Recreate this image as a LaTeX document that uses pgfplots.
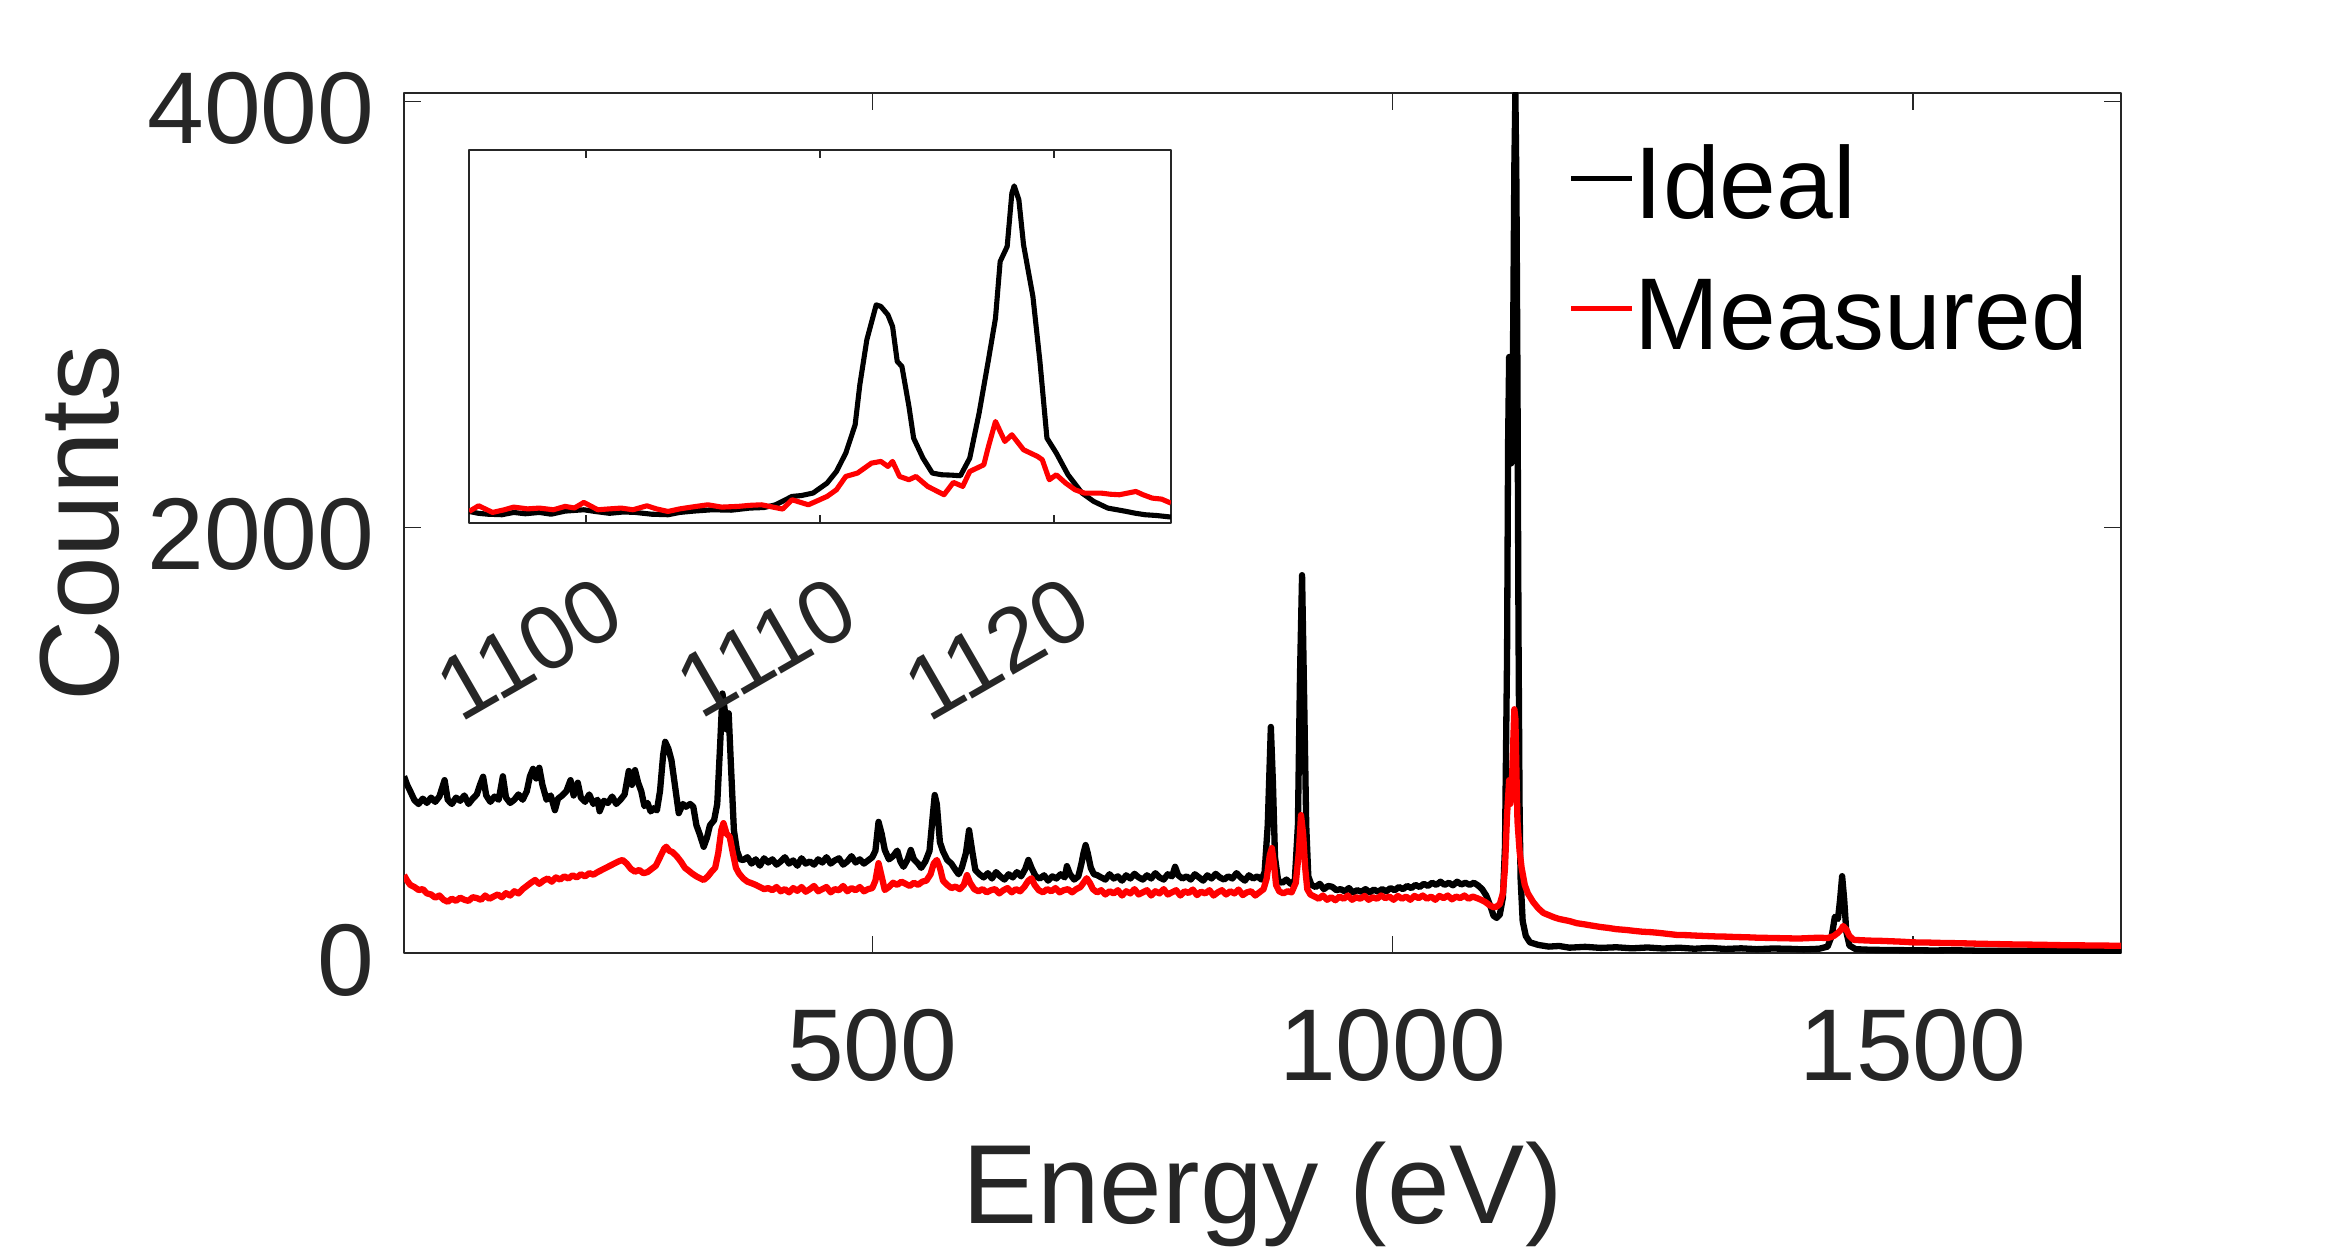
\documentclass[border=0pt]{standalone}
\usepackage{fontspec}
\setmainfont{Liberation Sans}
\usepackage{pgfplots}
\pgfplotsset{compat=1.18}
\definecolor{axgray}{HTML}{262626}
\definecolor{mred}{HTML}{FF0000}
\begin{document}
\begin{tikzpicture}
\path[use as bounding box] (0,0) rectangle (781.33pt,416.67pt);
\begin{axis}[
  at={(134.67pt,99pt)}, anchor=south west,
  width=572.33pt, height=286.67pt, scale only axis,
  xmin=50, xmax=1700, ymin=0, ymax=4040,
  xtick={500,1000,1500}, xticklabels={500,1000,1500},
  ytick={0,2000,4000}, yticklabels={0,2000,4000},
  /pgf/number format/assume math mode=true,
  tick align=inside, major tick length=5.8pt,
  axis line style={axgray, line width=0.5pt},
  every tick/.style={axgray, line width=0.5pt},
  tick label style={font=\fontsize{34}{40}\selectfont, text=axgray},
  xticklabel style={anchor=north, inner sep=0pt, yshift=-18.7pt},
  yticklabel style={anchor=east, inner sep=0pt, xshift=-9.7pt, yshift=-2.3pt},
  xlabel={Energy (eV)}, ylabel={Counts},
  label style={font=\fontsize{37.5}{45}\selectfont, text=axgray},
  xlabel style={at={(axis description cs:0.5,0)}, anchor=base, yshift=-90.1pt},
  ylabel style={at={([xshift=-95.2pt]axis description cs:0,0.5)}, anchor=base},
  legend style={draw=none, fill=none, at={(axis description cs:0.6783,0.9373)}, anchor=north west,
    inner sep=0pt, outer sep=0pt, font=\fontsize{34}{40}\selectfont, text=black,
    cells={anchor=west}, nodes={inner sep=0pt, text height=24pt, text depth=0pt},
    row sep=19.5pt, column sep=0pt},
  legend image code/.code={\draw[#1, line width=1.6pt] (0pt,1.6pt) -- (20.4pt,1.6pt);},
  line join=round,
]
\addplot[black, line width=2.1pt] coordinates {
(50,830)(53,790)(56,760)(60,718)(64,700)(68,725)(72,705)(76,730)(80,710)(84,735)(89,812)(92,720)(96,700)(100,730)(104,715)(108,740)(112,700)(116,725)(120,745)(123,790)(126,828)(129,740)(133,710)(137,735)(141,720)(145,830)(148,730)(152,705)(156,720)(160,745)(164,720)(168,760)(171,830)(174,865)(177,820)(180,870)(183,790)(187,720)(191,740)(195,671)(198,725)(202,740)(206,760)(210,812)(213,740)(217,800)(220,730)(224,710)(228,745)(232,700)(236,720)(238,666)(242,715)(246,705)(250,735)(254,700)(258,720)(262,745)(266,855)(269,790)(272,859)(275,800)(278,760)(281,690)(284,705)(287,665)(290,680)(293,670)(296,760)(299,930)(301,992)(304,960)(307,906)(310,800)(314,657)(318,700)(321,687)(325,700)(328,687)(331,600)(334,560)(338,499)(341,540)(344,600)(348,624)(351,700)(354,1000)(356,1219)(358,1150)(360,1050)(362,1126)(364,900)(367,577)(370,480)(373,440)(376,437)
(380,450)(384,420)(388,440)(392,410)(396,445)(400,425)(404,440)(408,415)(412,430)(416,450)(420,420)(424,435)(428,410)(432,445)(436,420)(440,430)(444,415)(448,440)(452,425)(456,450)(460,420)(464,435)(468,445)(472,415)(476,430)(480,455)(484,425)(488,440)(492,420)(496,435)(500,450)(503,480)(506,616)(509,560)(512,484)(516,440)(520,455)(524,481)(527,430)(530,405)(534,440)(537,484)(540,440)(544,420)(547,400)(551,430)(555,480)(558,640)(560,742)(562,700)(565,520)(568,477)(572,437)(576,420)(580,390)(583,370)(586,400)(590,470)(593,577)(596,480)(599,390)(603,370)(607,355)(611,375)(615,350)(619,380)(623,360)(627,345)(631,370)(635,355)(639,380)(643,360)(647,395)(650,437)(653,400)(657,360)(661,350)(665,365)(669,340)(673,360)(677,350)(681,370)(685,355)(687,408)(690,370)(694,345)(698,360)(701,420)(703,470)(705,507)(707,470)(710,400)(713,370)(716,366)(720,355)
(724,345)(728,370)(732,350)(736,360)(740,340)(744,365)(748,350)(752,372)(756,355)(760,345)(764,365)(768,350)(772,375)(776,355)(780,345)(784,370)(788,360)(791,405)(794,365)(798,350)(802,360)(806,345)(810,370)(814,355)(818,340)(822,365)(826,350)(830,372)(834,355)(838,345)(842,360)(846,350)(850,375)(854,355)(858,340)(862,365)(866,350)(870,360)(874,345)(877,380)(880,600)(883,1062)(885,800)(887,450)(890,340)(894,330)(898,345)(902,325)(906,340)(909,600)(911,1300)(913,1775)(915,1200)(917,600)(919,360)(922,320)(926,310)(930,325)(934,300)(938,315)(942,311)(946,295)(950,300)(954,290)(958,305)(962,285)(966,295)(970,288)(974,300)(978,285)(982,298)(986,288)(990,300)(994,290)(998,305)(1002,295)(1006,310)(1010,300)(1014,315)(1018,305)(1022,320)(1026,310)(1030,325)(1034,315)(1038,330)(1042,320)(1046,335)(1050,320)(1054,330)(1058,318)(1062,335)(1066,322)(1070,330)(1074,320)(1078,330)(1082,318)(1086,300)(1090,270)(1094,220)(1097,175)(1100,165)(1103,180)(1106,260)(1108,500)(1110,1400)(1111,2400)(1112,2800)(1113,2650)(1114,2300)(1115,2500)(1116,3000)(1117,3700)(1118,4035)(1119,3600)(1120,2700)(1121,1500)(1122,700)(1123,350)(1125,150)(1128,80)(1132,50)(1140,38)(1150,30)(1160,33)(1170,25)(1185,29)(1200,24)(1215,27)(1230,22)(1245,26)(1260,21)(1275,25)(1290,20)(1305,24)(1320,19)(1335,22)(1350,18)(1365,21)(1380,20)(1395,17)(1410,20)(1418,30)(1422,80)(1425,170)(1428,160)(1430,250)(1432,361)(1434,250)(1436,100)(1439,35)(1445,18)(1460,15)(1480,14)(1500,13)(1520,12)(1540,13)(1560,11)(1580,11)(1600,10)(1625,10)(1650,9)(1675,9)(1700,8)
};
\addlegendentry{Ideal}
\addplot[mred, line width=2.1pt] coordinates {
(50,366)(53,340)(56,320)(60,310)(64,296)(68,300)(72,280)(76,275)(80,260)(84,270)(88,250)(92,241)(96,255)(100,245)(104,260)(108,250)(112,245)(116,262)(120,258)(124,250)(128,270)(132,255)(136,265)(140,275)(144,262)(148,281)(152,270)(156,290)(160,280)(164,300)(168,315)(172,330)(176,343)(180,325)(184,340)(188,350)(192,335)(196,355)(200,345)(204,360)(208,350)(212,365)(216,355)(220,370)(224,360)(228,375)(232,368)(236,380)(240,390)(244,400)(248,410)(252,420)(256,430)(260,437)(264,420)(268,395)(272,382)(276,390)(280,375)(284,380)(288,395)(292,410)(296,450)(300,490)(302,499)(305,480)(308,474)(312,455)(316,430)(320,400)(324,385)(327,373)(331,360)(335,350)(338,343)(342,360)(346,385)(349,400)(352,470)(355,580)(357,610)(360,560)(363,546)(366,470)(369,400)(372,373)(376,350)(380,335)(384,328)(388,320)(392,310)(396,300)(400,305)(404,295)(408,310)(412,290)(416,300)(420,285)(424,305)(428,292)(432,310)(436,288)(440,300)(444,315)(448,290)(452,300)(456,310)(460,285)(464,300)(468,295)(472,315)(476,290)(480,305)(484,295)(488,310)(492,290)(496,300)(500,305)(503,340)(506,422)(509,360)(512,296)(516,310)(520,330)(524,320)(528,335)(532,325)(536,315)(540,330)(544,320)(548,335)(552,340)(556,370)(559,420)(562,437)(565,400)(568,340)(572,320)(576,305)(580,312)(584,300)(588,320)(591,366)(594,330)(598,300)(602,290)(606,300)(610,285)(614,295)(618,300)(622,280)(626,295)(630,305)(634,285)(638,300)(642,290)(646,310)(650,340)(653,351)(656,320)(660,295)(664,285)(668,300)(672,290)(676,305)(680,285)(684,295)(688,300)(692,285)(696,300)(700,310)(703,330)(706,351)(709,330)(712,300)(716,285)(720,295)
(724,275)(728,290)(732,280)(736,295)(740,270)(744,290)(748,280)(752,300)(756,275)(760,285)(764,295)(768,270)(772,290)(776,280)(780,300)(784,275)(788,285)(792,295)(796,270)(800,290)(804,282)(808,298)(812,272)(816,288)(820,280)(824,295)(828,270)(832,285)(836,295)(840,275)(844,290)(848,280)(852,298)(856,272)(860,285)(864,290)(868,270)(872,285)(876,300)(879,350)(882,460)(884,493)(886,420)(888,320)(891,290)(895,280)(899,290)(903,285)(907,330)(910,480)(912,648)(914,560)(916,400)(918,300)(921,275)(925,265)(929,255)(933,270)(937,250)(941,262)(945,248)(949,265)(953,255)(957,270)(961,250)(965,262)(969,255)(973,268)(977,250)(981,262)(985,255)(989,270)(993,258)(997,265)(1001,250)(1005,268)(1009,255)(1013,265)(1017,250)(1021,268)(1025,258)(1029,270)(1033,255)(1037,265)(1041,250)(1045,268)(1049,258)(1053,270)(1057,252)(1061,265)(1065,258)(1069,270)(1073,255)(1077,265)(1081,258)(1085,250)(1089,240)(1093,225)(1097,215)(1100,218)(1103,230)(1106,280)(1108,400)(1110,650)(1112,812)(1113,700)(1114,750)(1115,850)(1116,1000)(1117,1145)(1118,1100)(1119,850)(1120,620)(1122,480)(1124,400)(1127,320)(1130,280)(1135,240)(1140,210)(1145,188)(1150,178)(1155,168)(1160,160)(1165,155)(1170,150)(1177,140)(1184,135)(1190,130)(1200,122)(1207,118)(1215,112)(1225,108)(1232,104)(1240,100)(1248,98)(1255,95)(1264,90)(1273,85)(1282,84)(1290,82)(1300,80)(1310,78)(1320,77)(1330,75)(1340,74)(1350,72)(1360,71)(1370,70)(1380,69)(1390,68)(1400,70)(1410,72)(1418,70)(1424,80)(1428,95)(1431,110)(1433,127)(1436,110)(1439,80)(1443,62)(1450,60)(1460,58)(1470,57)(1480,55)(1490,53)(1500,50)(1515,49)(1530,47)(1545,46)(1560,44)(1580,42)(1600,40)(1620,39)(1640,37)(1660,36)(1680,35)(1700,34)
};
\addlegendentry{Measured}
\end{axis}
\begin{axis}[
  at={(156.4pt,242.3pt)}, anchor=south west,
  width=233.9pt, height=124.4pt, scale only axis,
  xmin=1095, xmax=1125, ymin=200, ymax=4400,
  xtick={1100,1110,1120}, xticklabels={1100,1110,1120},
  ytick=\empty,
  /pgf/number format/assume math mode=true,
  tick align=inside, major tick length=2.6pt,
  axis background/.style={fill=white},
  axis line style={axgray, line width=0.5pt},
  every tick/.style={axgray, line width=0.5pt},
  tick label style={font=\fontsize{30}{36}\selectfont, text=axgray},
  xticklabel style={xshift=14.3pt, yshift=-34.6pt, rotate=30, anchor=base east, inner sep=0pt},
  line join=round,
]
\addplot[black, line width=1.7pt] coordinates {
(1095,331)(1095.4,310)(1095.8,300)(1096.4,294)(1096.9,320)(1097.4,305)(1098,320)(1098.5,300)(1099.1,335)(1099.9,350)(1100.4,330)(1101,310)(1101.6,325)(1102.1,320)(1102.8,300)(1103.5,294)(1104,320)(1104.6,335)(1105.4,350)(1106.2,345)(1107,369)(1107.6,375)(1108.1,406)(1108.8,500)(1109.2,510)(1109.7,538)(1110.3,650)(1110.7,781)(1111.1,988)(1111.5,1306)(1111.7,1756)(1112.0,2263)(1112.4,2656)(1112.6,2638)(1112.9,2544)(1113.1,2413)(1113.3,2019)(1113.5,1963)(1113.8,1513)(1114.0,1156)(1114.4,931)(1114.8,763)(1115.2,744)(1115.6,740)(1116.0,733)(1116.4,931)(1116.8,1438)(1117.2,2038)(1117.5,2506)(1117.7,3144)(1118.0,3313)(1118.2,3913)(1118.3,3995)(1118.5,3838)(1118.7,3331)(1119.1,2750)(1119.4,2019)(1119.7,1156)(1120.1,988)(1120.6,744)(1121.2,538)(1121.7,444)(1122.3,369)(1122.7,350)(1123.1,331)(1123.5,310)(1123.9,294)(1124.4,285)(1125,268)
};
\addplot[mred, line width=1.7pt] coordinates {
(1095,331)(1095.4,395)(1096,320)(1096.5,350)(1096.9,380)(1097.5,360)(1098,369)(1098.6,350)(1099.1,388)(1099.5,370)(1099.9,433)(1100.5,350)(1101,360)(1101.5,369)(1102,350)(1102.6,395)(1103,360)(1103.5,331)(1104,360)(1104.5,380)(1105.2,406)(1105.8,380)(1106.5,388)(1107,400)(1107.5,406)(1108.4,358)(1108.8,463)(1109.5,406)(1110.3,500)(1110.7,575)(1111.1,725)(1111.6,763)(1112.2,875)(1112.6,894)(1112.9,838)(1113.1,894)(1113.4,725)(1113.8,688)(1114.1,725)(1114.6,613)(1115.3,519)(1115.7,658)(1116.1,613)(1116.4,781)(1117.0,856)(1117.2,1063)(1117.5,1344)(1117.9,1119)(1118.2,1194)(1118.7,1025)(1119.3,950)(1119.5,913)(1119.8,688)(1120.1,744)(1120.5,650)(1120.9,575)(1121.3,538)(1122.0,538)(1122.4,525)(1122.8,519)(1123.2,540)(1123.5,556)(1123.8,520)(1124.2,481)(1124.6,470)(1125,425)
};
\end{axis}
\end{tikzpicture}
\end{document}
